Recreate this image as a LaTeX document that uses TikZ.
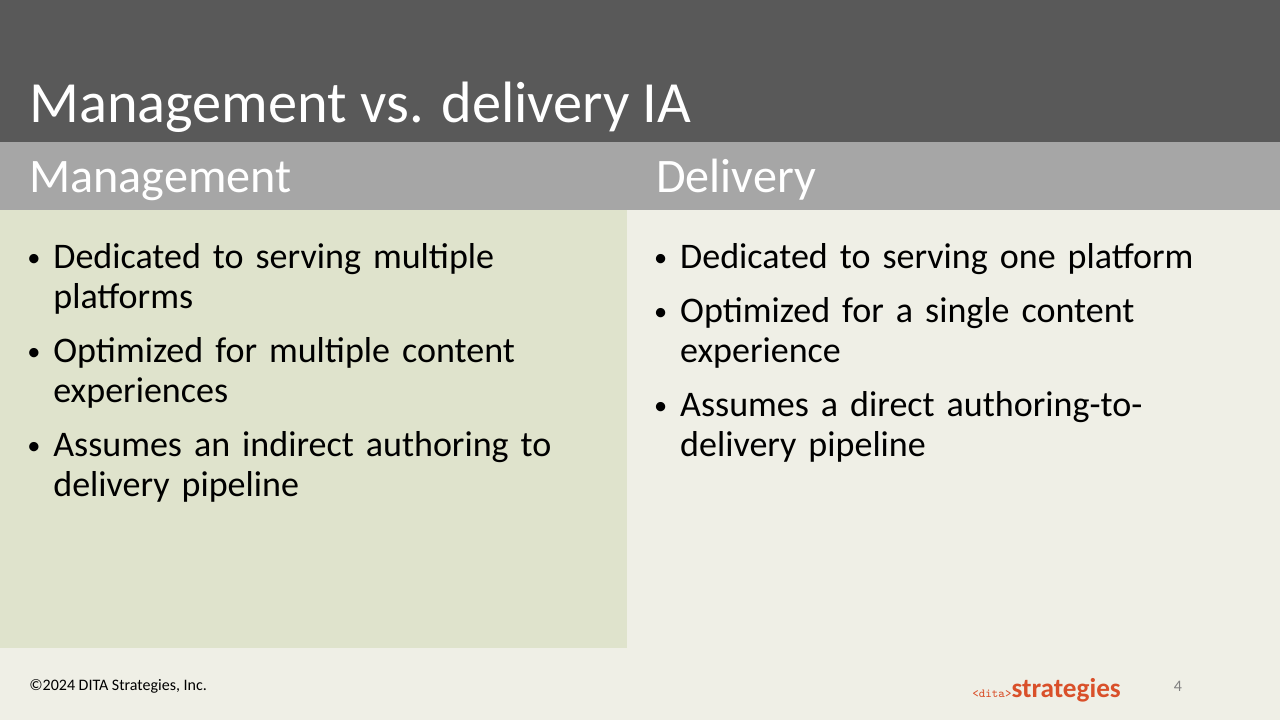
\documentclass[tikz,border=0pt]{standalone}
\usepackage{fontspec}
\setmainfont{Carlito}
\usetikzlibrary{positioning}
\definecolor{titlegray}{HTML}{595959}
\definecolor{headgray}{HTML}{A6A6A6}
\definecolor{leftbg}{HTML}{DFE3CC}
\definecolor{pagebg}{HTML}{EFEFE6}
\definecolor{ditaorange}{HTML}{D9502A}
\tikzset{
  heading/.style={anchor=base west, text=white, inner sep=0pt, font=\fontsize{27.4}{32}\selectfont},
  item/.style={anchor=base west, inner sep=0pt, text width=10.6cm, align=left, font=\fontsize{20.5}{23.2}\selectfont},
  dot/.style={anchor=base west, inner sep=0pt, font=\fontsize{15}{18}\selectfont},
}
\newcommand{\bulletitem}[3]{%
	\node[dot] (#1dot) at (27,#2-2) {•};
	\node[item] (#1) at (53,#2) {#3};
}
\begin{document}
\begin{tikzpicture}[x=0.02cm,y=-0.02cm]
	\fill[pagebg] (0,0) rectangle (1280,720);
	\useasboundingbox (0,0) rectangle (1280,720);
	\fill[titlegray] (0,0) rectangle (1280,142);
	\fill[headgray] (0,142) rectangle (1280,210);
	\fill[leftbg] (0,210) rectangle (627,648);
	\node[heading, font=\fontsize{33.2}{38}\selectfont] (title) at (29,122) {Management vs. delivery IA};
	\node[heading] (mhead) at (29,192) {Management};
	\node[heading] (dhead) at (656,192) {Delivery};
	% management column
	\bulletitem{mone}{268}{Dedicated to serving multiple\\platforms}
	\bulletitem{mtwo}{362}{Optimized for multiple content\\experiences}
	\bulletitem{mthree}{456}{Assumes an indirect authoring to\\delivery pipeline}
	% delivery column
	\begin{scope}[xshift=12.54cm]
	\bulletitem{done}{268}{Dedicated to serving one platform}
	\bulletitem{dtwo}{322}{Optimized for a single content\\experience}
	\bulletitem{dthree}{416}{Assumes a direct authoring-to-\\delivery pipeline}
	\end{scope}
	\node[anchor=base west, inner sep=0pt, font=\fontsize{9.1}{11}\selectfont] (copy) at (29,690) {©2024 DITA Strategies, Inc.};
	\node[anchor=base west, inner sep=0pt, text=ditaorange] (logo) at (972,697)
		{{\fontsize{7}{8}\ttfamily <dita>}{\fontsize{15.5}{18}\selectfont\bfseries strategies}};
	\node[anchor=base, inner sep=0pt, text=gray, font=\fontsize{9.1}{11}\selectfont] (page) at (1178,691) {4};
\end{tikzpicture}
\end{document}
